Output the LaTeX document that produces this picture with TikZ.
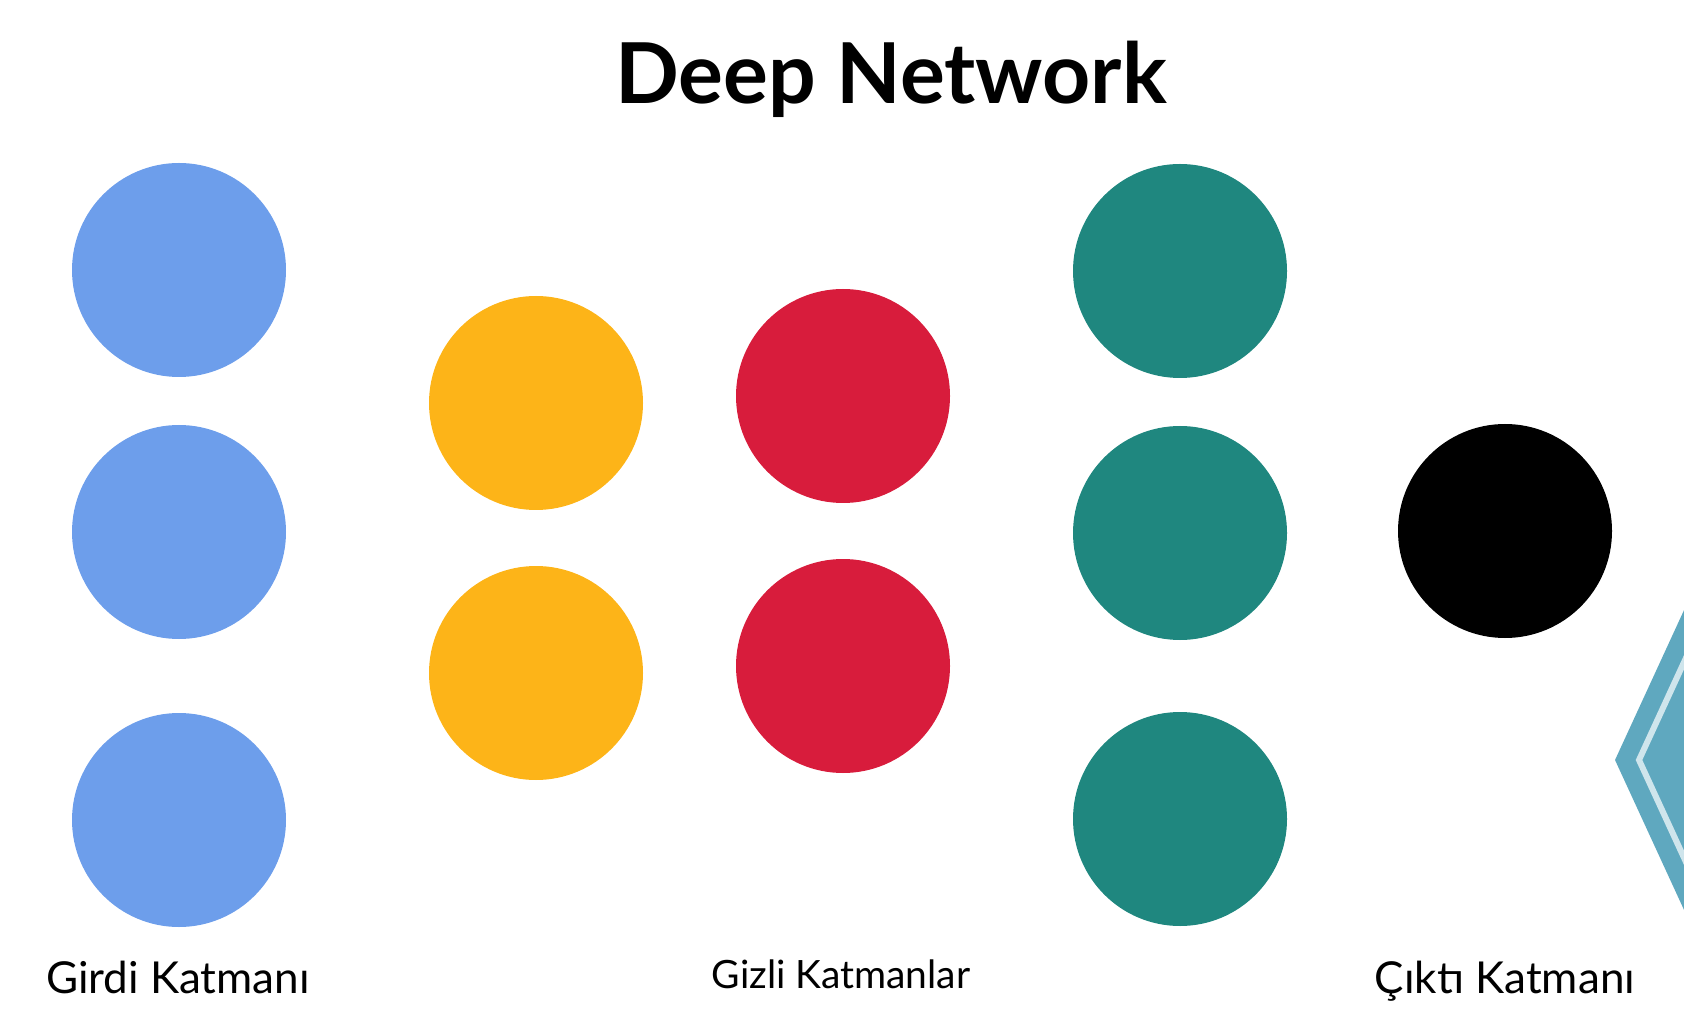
\documentclass[tikz,border=0pt]{standalone}
\usepackage{fontspec}
\setmainfont{Lato}
\usetikzlibrary{positioning}

\definecolor{inblue}{HTML}{6D9EEB}
\definecolor{hidorange}{HTML}{FDB418}
\definecolor{hidred}{HTML}{D81C3C}
\definecolor{hidteal}{HTML}{1F877F}
\definecolor{logoblue}{HTML}{5FA8BF}

\begin{document}
\begin{tikzpicture}[
    x=0.5pt, y=-0.5pt,
    neuron/.style={circle, minimum size=107pt, inner sep=0pt, outer sep=0pt},
    inputn/.style={neuron, fill=inblue},
    hidorangen/.style={neuron, fill=hidorange},
    hidredn/.style={neuron, fill=hidred},
    hidtealn/.style={neuron, fill=hidteal},
    outputn/.style={neuron, fill=black},
    layerlabel/.style={anchor=base, font=\fontsize{22}{26}\selectfont},
    titlelabel/.style={anchor=base, font=\fontsize{42}{48}\selectfont\bfseries}
]
\useasboundingbox (0,0) rectangle (1684,1020);

% Logo at the right edge
\begin{scope}
\clip (0,0) rectangle (1684,1020);
\fill[logoblue] (1615,760) -- (1760,445) -- (1905,760) -- (1760,1075) -- cycle;
\draw[white!70!logoblue, line width=3pt] (1639,760) -- (1760,497) -- (1881,760) -- (1760,1023) -- cycle;
\end{scope}

% Title
\node[titlelabel] (title) at (891,104) {Deep Network};

% Input layer
\node[inputn] (in1) at (179,270) {};
\node[inputn, below=24pt of in1] (in2) {};
\node[inputn, below=37pt of in2] (in3) {};

% Hidden layers
\node[hidorangen] (ha1) at (536,403) {};
\node[hidorangen, below=28pt of ha1] (ha2) {};
\node[hidredn] (hb1) at (843,396) {};
\node[hidredn, below=28pt of hb1] (hb2) {};
\node[hidtealn] (hc1) at (1180,271) {};
\node[hidtealn, below=24pt of hc1] (hc2) {};
\node[hidtealn, below=36pt of hc2] (hc3) {};

% Output layer
\node[outputn] (out) at (1505,531) {};

% Layer labels
\node[layerlabel] (inlabel) at (178,993) {Girdi Katmanı};
\node[layerlabel, font=\fontsize{19.5}{24}\selectfont] (hidlabel) at (841,988) {Gizli Katmanlar};
\node[layerlabel] (outlabel) at (1505,993) {Çıktı Katmanı};

\end{tikzpicture}
\end{document}
